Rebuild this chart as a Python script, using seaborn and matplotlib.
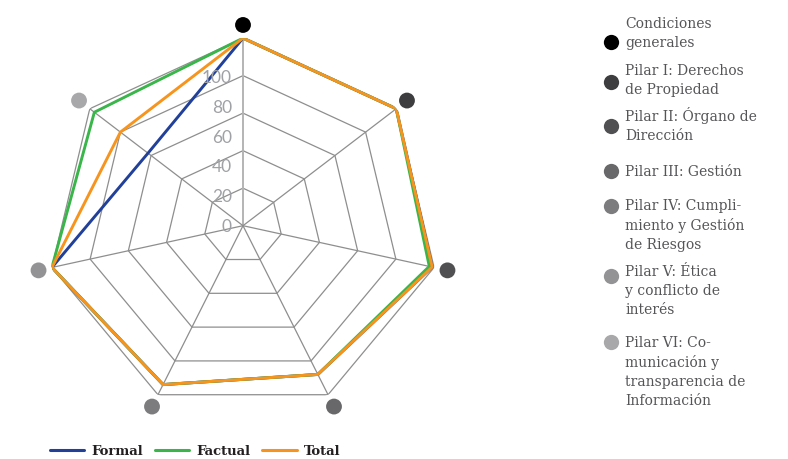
import numpy as np
import pandas as pd
import matplotlib
matplotlib.use("Agg")
import matplotlib.pyplot as plt
from matplotlib.transforms import offset_copy
from matplotlib.lines import Line2D
import seaborn as sns

# Radar axes (clockwise from the top)
categories = [
    "Condiciones\ngenerales",
    "Pilar I: Derechos\nde Propiedad",
    "Pilar II: Órgano de\nDirección",
    "Pilar III: Gestión",
    "Pilar IV: Cumpli-\nmiento y Gestión\nde Riesgos",
    "Pilar V: Ética\ny conflicto de\ninterés",
    "Pilar VI: Co-\nmunicación y\ntransparencia de\nInformación",
]
formal = [100, 100, 99, 88, 94, 100, 62]
factual = [100, 100, 97.5, 88, 94, 100, 97]
total = [100, 100, 99, 88, 94, 100, 80]
series_names = ["Formal", "Factual", "Total"]
tick_values = [0, 20, 40, 60, 80, 100]
ring_values = [20, 40, 60, 80, 100]

series_colors = ["#21409a", "#39b54a", "#f7941d"]
category_colors = ["#000000", "#3d3d3f", "#505053", "#68686b", "#7c7c7f",
                   "#939396", "#a8a8ab"]

sns.set_theme(style="white")

W, H = 788, 460
fig = plt.figure(figsize=(W / 100, H / 100), dpi=100)
fig.patch.set_facecolor("white")

# polar axes slightly wider than tall
cx, cy, rx, ry = 243, 226.7, 196, 187.6
ax = fig.add_axes([(cx - rx) / W, (H - cy - ry) / H, 2 * rx / W, 2 * ry / H],
                  projection="polar")
ax.set_aspect("auto")
ax.set_theta_zero_location("N")
ax.set_theta_direction(-1)
ax.grid(False)
ax.set_xticks([])
ax.set_yticks([])
ax.spines["polar"].set_visible(False)
ax.patch.set_alpha(0)

n = len(categories)
theta = np.linspace(0, 2 * np.pi, n, endpoint=False)
closed = np.append(theta, 2 * np.pi)

# heptagonal grid
for v in ring_values:
    ax.plot(closed, [v] * (n + 1), color="#8e8e8e", lw=0.9, zorder=1)
for i, a in enumerate(theta):
    if i == 0:
        ax.plot([a, a], [0, 100], color="#b4b4b4", lw=1.4, zorder=1)
    else:
        ax.plot([a, a], [0, 100], color="#8e8e8e", lw=0.9, zorder=1)

# series
rows = []
for name, vals in zip(series_names, [formal, factual, total]):
    for k in range(n + 1):
        rows.append({"theta": closed[k], "r": vals[k % n], "serie": name})
df = pd.DataFrame(rows)
sns.lineplot(data=df, x="theta", y="r", hue="serie", hue_order=series_names,
             palette=series_colors, sort=False, estimator=None, lw=2.1,
             legend=False, ax=ax, zorder=3)
ax.set_xlabel("")
ax.set_ylabel("")
ax.set_ylim(0, 100)

# category markers outside each vertex
ax.scatter(theta, [107] * n, s=130, c=category_colors, clip_on=False,
           zorder=5, linewidths=0)

# value labels along the top axis
lab_tr = offset_copy(ax.transData, fig=fig, x=-8, y=0, units="points")
for v in tick_values:
    ax.text(0, v * 0.79, str(v), transform=lab_tr, ha="right", va="center",
            color="#9fa1a4", fontsize=12.5, family="Lato", fontweight="normal",
            zorder=4)

# series legend at the bottom
handles = [Line2D([], [], color=c, lw=2.2) for c in series_colors]
fig.legend(handles, series_names, loc="center", bbox_to_anchor=(195 / W, 1 - 452 / H),
           ncol=3, frameon=False, handlelength=2.6, handletextpad=0.55,
           columnspacing=0.9, labelcolor="#231f20",
           prop={"family": "DejaVu Serif", "weight": "bold", "size": 9.5})

# category legend on the right
text_tops = [17, 64, 107, 165, 199, 265, 336]
dot_ys = [42.7, 82.7, 126.7, 171.7, 206.7, 276.7, 343.3]
for lab, col, ty, dy in zip(categories, category_colors, text_tops, dot_ys):
    fig.text(625 / W, 1 - ty / H, lab, ha="left", va="top", color="#555558",
             fontsize=10, family="DejaVu Serif", linespacing=1.45)
    fig.add_artist(Line2D([611 / W], [1 - dy / H], marker="o", markersize=11,
                          color=col, markeredgewidth=0, transform=fig.transFigure))

fig.savefig("out.png", dpi=100)
